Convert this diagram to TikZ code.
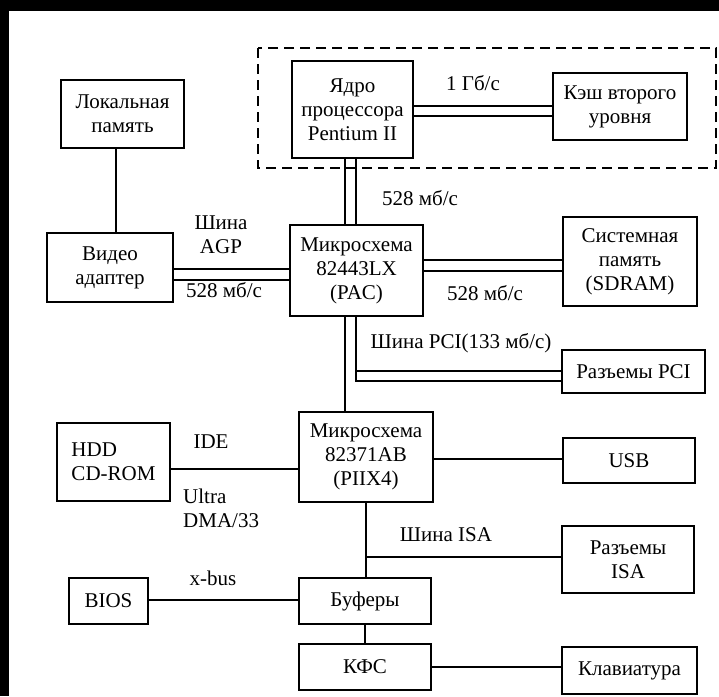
\documentclass[tikz,border=0pt]{standalone}
\usepackage{fontspec}
\setmainfont{Liberation Serif}
\begin{document}
\begin{tikzpicture}[x=1pt,y=-1pt,
  txt/.style={font=\fontsize{21}{24}\selectfont},
  box/.style={txt, draw, line width=1.3pt, align=center, inner sep=0pt},
  lbl/.style={txt, align=center, inner sep=0pt},
  ln/.style={line width=1.2pt}]
\fill[black] (0,0) rectangle (719,696);
\fill[white] (9,11) rectangle (719,696);
\useasboundingbox (0,0) rectangle (719,696);
% dashed processor frame
\draw[line width=1.4pt, dash pattern=on 10pt off 6pt] (258,48) rectangle (716,168);
% boxes
\node[box, minimum width=121pt, minimum height=97pt] (core) at (352.5,109.5) {Ядро\\процессора\\Pentium II};
\node[box, minimum width=134pt, minimum height=67pt] (cache) at (620,106.5) {Кэш второго\\уровня};
\node[box, minimum width=123pt, minimum height=68pt] (local) at (122.5,114) {Локальная\\память};
\node[box, minimum width=126pt, minimum height=69pt] (video) at (110,267.5) {Видео\\адаптер};
\node[box, minimum width=133pt, minimum height=91pt] (pac) at (356.5,270.5) {Микросхема\\82443LX\\(PAC)};
\node[box, minimum width=134pt, minimum height=89pt] (sdram) at (630,261.5) {Системная\\память\\(SDRAM)};
\node[box, minimum width=143pt, minimum height=43pt] (pci) at (633.5,371.5) {Разъемы PCI};
\node[box, minimum width=134pt, minimum height=90pt] (piix) at (366,457) {Микросхема\\82371AB\\(PIIX4)};
\node[box, minimum width=113pt, minimum height=78pt, align=left] (hdd) at (113.5,462) {HDD\\CD-ROM};
\node[box, minimum width=132pt, minimum height=45pt] (usb) at (629,460.5) {USB};
\node[box, minimum width=132pt, minimum height=67pt] (isa) at (628,559.5) {Разъемы\\ISA};
\node[box, minimum width=79pt, minimum height=46pt] (bios) at (108.5,601) {BIOS};
\node[box, minimum width=132pt, minimum height=46pt] (buf) at (365,601) {Буферы};
\node[box, minimum width=132pt, minimum height=46pt] (kbs) at (365,667) {КФС};
\node[box, minimum width=135pt, minimum height=47pt] (kbd) at (629.5,670.5) {Клавиатура};
% labels
\node[lbl] (l1) at (473,83) {1 Гб/с};
\node[lbl] (lagp) at (221,235) {Шина\\AGP};
\node[lbl] (lagps) at (224,290) {528 мб/с};
\node[lbl] (lcore) at (420,198) {528 мб/с};
\node[lbl] (lsd) at (485,293) {528 мб/с};
\node[lbl] (lpci) at (461,343) {Шина PCI(133 мб/с)};
\node[lbl] (lide) at (211,442) {IDE};
\node[lbl, align=left, anchor=west] (ludma) at (183,508) {Ultra\\DMA/33};
\node[lbl] (lisa) at (446,535) {Шина ISA};
\node[lbl] (lx) at (213,578) {x-bus};
% connectors
\draw[ln] (core.east |- 0,106) -- (cache.west |- 0,106);
\draw[ln] (core.east |- 0,116) -- (cache.west |- 0,116);
\draw[ln] (core.south -| 345,0) -- (pac.north -| 345,0);
\draw[ln] (core.south -| 356,0) -- (pac.north -| 356,0);
\draw[ln] (local.south -| 116,0) -- (video.north -| 116,0);
\draw[ln] (video.east |- 0,269) -- (pac.west |- 0,269);
\draw[ln] (video.east |- 0,280) -- (pac.west |- 0,280);
\draw[ln] (pac.east |- 0,260) -- (sdram.west |- 0,260);
\draw[ln] (pac.east |- 0,271) -- (sdram.west |- 0,271);
\draw[ln] (pac.south -| 345,0) -- (piix.north -| 345,0);
\coordinate (pcia) at (356,371);
\coordinate (pcib) at (356,381);
\draw[ln] (pac.south -| 356,0) -- (pcib) -- (pci.west |- pcib);
\draw[ln] (pcia) -- (pci.west |- pcia);
\draw[ln] (hdd.east |- 0,469) -- (piix.west |- 0,469);
\draw[ln] (piix.east |- 0,459) -- (usb.west |- 0,459);
\draw[ln] (piix.south -| 366,0) -- (buf.north -| 366,0);
\coordinate (isab) at (366,557);
\draw[ln] (isab) -- (isa.west |- isab);
\draw[ln] (bios.east |- 0,600) -- (buf.west |- 0,600);
\draw[ln] (buf.south) -- (kbs.north);
\draw[ln] (kbs.east |- 0,667) -- (kbd.west |- 0,667);
\end{tikzpicture}
\end{document}
